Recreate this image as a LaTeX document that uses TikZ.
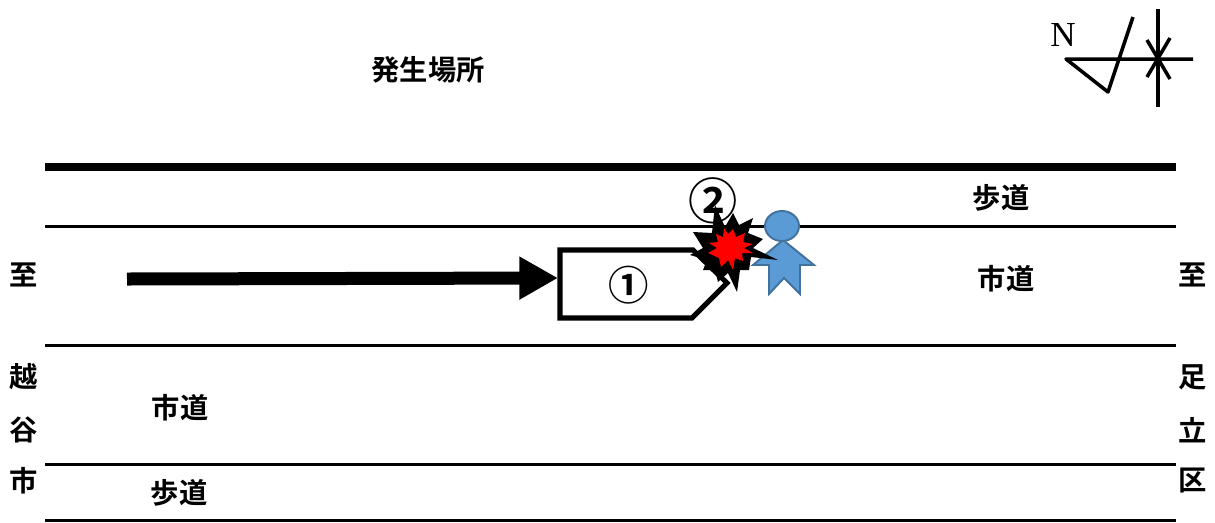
\documentclass[tikz,border=0pt]{standalone}
\usepackage{fontspec}
\setmainfont{Noto Sans CJK JP}[BoldFont={Noto Sans CJK JP Bold}]
\newfontfamily\northfont{Liberation Serif}
\usepackage{tikz}
\usetikzlibrary{arrows.meta}
\definecolor{personblue}{HTML}{5B9BD5}
\definecolor{personedge}{HTML}{41719C}
\tikzset{
	road/.style={line width=1.7pt},
	mark line/.style={line width=2pt},
	lbl/.style={font=\bfseries\fontsize{16.1}{16}\selectfont,inner sep=0pt}
}

\begin{document}
\begin{tikzpicture}[x=0.02cm,y=-0.02cm]
	\useasboundingbox (0, 0) rectangle (1215, 522);
	% road lines
	\draw [line width=4.5pt] (45, 167) -- (1176, 167);
	\draw [road] (45, 226) -- (1176, 226);
	\draw [road] (45, 345) -- (1176, 345);
	\draw [road] (45, 464) -- (1176, 464);
	\draw [road] (45, 520) -- (1176, 520);
	% north mark
	\node [font=\northfont\fontsize{20}{20}\selectfont,inner sep=0pt] (north) at (1063, 35) {N};
	\draw [mark line,line join=round] (1193, 59) -- (1066, 59) -- (1108, 92) -- (1133, 17);
	\draw [mark line] (1158, 9) -- (1158, 107);
	\draw [mark line] (1147, 40) -- (1170, 79);
	\draw [mark line] (1170, 38) -- (1147, 77);
	% texts
	\node [lbl] (place) at (428, 70) {発生場所};
	\node [lbl] (walkN) at (1001, 198) {歩道};
	\node [lbl] (roadE) at (1006, 279) {市道};
	\node [lbl] (roadW) at (180, 408) {市道};
	\node [lbl] (walkS) at (179, 493) {歩道};
	\foreach \txt/\ypos [count=\i] in {至/275,越/377,谷/430,市/481}
		\node [lbl] (west\i) at (24, \ypos) {\txt};
	\foreach \txt/\ypos [count=\i] in {至/275,足/377,立/430,区/481}
		\node [lbl] (east\i) at (1193, \ypos) {\txt};
	% car and its path
	\coordinate (start) at (127, 279);
	\coordinate (carback) at (558, 278);
	\draw [line width=2.9pt,line join=miter,fill=white] (560, 250) -- (693, 250) -- (727, 283) -- (692, 318) -- (560, 318) -- cycle;
	\draw [-{Triangle[length=22pt,width=23pt]},line width=7.4pt] (start) -- (carback);
	\node [font=\bfseries\fontsize{23}{23}\selectfont,inner sep=0pt] (car) at (629, 285) {①};
	\node [font=\bfseries\fontsize{28}{28}\selectfont,inner sep=0pt] (walker) at (713, 201) {②};
	% person
	\draw [personedge,fill=personblue,line width=1.1pt] (783, 240) -- (814, 265) -- (800, 265) -- (800, 294) -- (784, 278) -- (769, 294) -- (769, 265) -- (753, 265) -- cycle;
	\draw [personedge,fill=personblue,line width=1.1pt] (782, 226) ellipse [x radius=17, y radius=15];
	% impact
	\fill [black] (715, 205) -- (725, 227) -- (733, 213) -- (739, 225) -- (753, 218) -- (748, 233) -- (763, 239) -- (753, 248) -- (778, 260) -- (751, 257) -- (749, 270) -- (740, 270) -- (737, 292) -- (728, 273) -- (718, 282) -- (715, 270) -- (703, 270) -- (707, 260) -- (690, 255) -- (703, 248) -- (693, 232) -- (712, 233) -- cycle;
	\fill [red] (724, 228) -- (728, 234) -- (733, 229) -- (736, 237) -- (745, 233) -- (743, 242) -- (753, 244) -- (744, 248) -- (753, 253) -- (742, 253) -- (743, 261) -- (735, 258) -- (733, 270) -- (728, 260) -- (721, 267) -- (719, 258) -- (708, 253) -- (717, 248) -- (709, 243) -- (718, 242) -- (716, 234) -- (723, 237) -- cycle;
\end{tikzpicture}
\end{document}
